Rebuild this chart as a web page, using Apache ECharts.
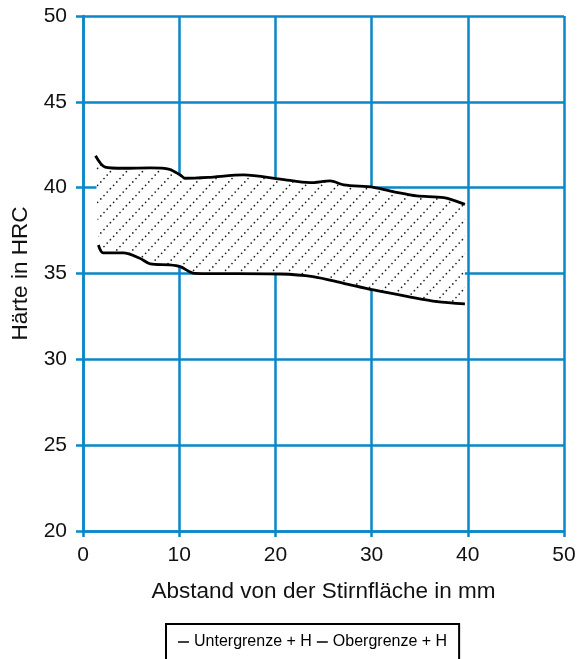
<!DOCTYPE html>
<html>
<head>
<meta charset="utf-8">
<script src="https://cdn.jsdelivr.net/npm/echarts@6/dist/echarts.min.js"></script>
<style>
  html, body { margin: 0; padding: 0; background: #fff; }
  #main { width: 586px; height: 659px; }
</style>
</head>
<body>
<div id="main"></div>
<script>
// Obergrenze + H
const upperX = [1.3, 2.3, 4.2, 7.0, 9.0, 10.1, 10.6, 13.0, 16.7, 20.5, 23.6, 25.7, 27.1, 30.2, 32.6, 34.7, 37.5, 39.7];
const upperY = [41.86, 41.2, 41.13, 41.15, 41.07, 40.74, 40.55, 40.6, 40.74, 40.5, 40.29, 40.39, 40.16, 40.02, 39.73, 39.52, 39.42, 39.03];
// Untergrenze + H
const lowerX = [1.6, 2.1, 4.2, 5.9, 7.0, 9.0, 10.1, 11.6, 20.5, 23.9, 27.1, 30.2, 33.8, 36.8, 39.7];
const lowerY = [36.66, 36.2, 36.2, 35.89, 35.56, 35.5, 35.4, 35.01, 34.97, 34.82, 34.43, 34.04, 33.65, 33.36, 33.23];

const seriesNames = ["Untergrenze + H", "Obergrenze + H"];
const xTicks = [0, 10, 20, 30, 40, 50];
const yTicks = [20, 25, 30, 35, 40, 45, 50];

const blue = "#0a87c9";
const font = "'Liberation Sans', Arial, Helvetica, sans-serif";

function zip(xs, ys) {
  return xs.map((x, i) => [x, ys[i]]);
}

// dotted diagonal hatching on white
function hatch() {
  const w = 16, h = 17, n = 5;
  const c = document.createElement("canvas");
  c.width = w;
  c.height = h;
  const ctx = c.getContext("2d");
  ctx.fillStyle = "#fff";
  ctx.fillRect(0, 0, w, h);
  ctx.fillStyle = "#1a1a1a";
  for (let i = 0; i < n; i++) {
    const x = (i + 0.5) * w / n;
    const y = h - (i + 0.5) * h / n;
    ctx.beginPath();
    ctx.arc(x, y, 0.85, 0, Math.PI * 2);
    ctx.fill();
  }
  return c;
}
const pattern = { image: hatch(), repeat: "repeat" };

const upper = zip(upperX, upperY);
const lower = zip(lowerX, lowerY);
const band = upper.concat(lower.slice().reverse());

const chart = echarts.init(document.getElementById("main"));
chart.setOption({
  animation: false,
  textStyle: { fontFamily: font },
  grid: { left: 83, right: 22, top: 16, bottom: 128, containLabel: false, outerBoundsMode: "none" },
  legend: {
    data: seriesNames,
    left: 166,
    top: 624,
    icon: "rect",
    itemWidth: 11,
    itemHeight: 1.5,
    itemGap: 5,
    padding: [10, 12, 30, 12],
    borderColor: "#000",
    borderWidth: 2,
    textStyle: { color: "#000", fontSize: 16, fontFamily: font }
  },
  xAxis: {
    type: "value",
    min: xTicks[0],
    max: xTicks[xTicks.length - 1],
    interval: 10,
    name: "Abstand von der Stirnfläche in mm",
    nameLocation: "middle",
    nameGap: 49,
    nameMoveOverlap: false,
    nameTextStyle: { color: "#111", fontSize: 22.5, fontFamily: font },
    axisLine: { show: true, lineStyle: { color: blue, width: 2.5 } },
    axisTick: { show: true, length: 6, lineStyle: { color: blue, width: 2.5 } },
    axisLabel: { color: "#111", fontSize: 21, margin: 14, fontFamily: font },
    splitLine: { show: true, lineStyle: { color: blue, width: 2.5 } }
  },
  yAxis: {
    type: "value",
    min: yTicks[0],
    max: yTicks[yTicks.length - 1],
    interval: 5,
    name: "Härte in HRC",
    nameLocation: "middle",
    nameGap: 51,
    nameMoveOverlap: false,
    nameTextStyle: { color: "#111", fontSize: 22.5, fontFamily: font },
    axisLine: { show: true, lineStyle: { color: blue, width: 2.5 } },
    axisTick: { show: true, length: 7, lineStyle: { color: blue, width: 2.5 } },
    axisLabel: { color: "#111", fontSize: 21, margin: 16, fontFamily: font },
    splitLine: { show: true, lineStyle: { color: blue, width: 2.5 } }
  },
  series: [
    {
      type: "custom",
      silent: true,
      data: [band[0]],
      renderItem: function (params, api) {
        const pts = band.map((p) => api.coord(p));
        return {
          type: "polygon",
          shape: { points: pts },
          style: { fill: pattern }
        };
      },
      z: 2
    },
    {
      name: seriesNames[0],
      type: "line",
      data: lower,
      smooth: 0.3,
      showSymbol: false,
      lineStyle: { color: "#000", width: 2.8 },
      itemStyle: { color: "#000" },
      z: 3
    },
    {
      name: seriesNames[1],
      type: "line",
      data: upper,
      smooth: 0.3,
      showSymbol: false,
      lineStyle: { color: "#000", width: 2.8 },
      itemStyle: { color: "#000" },
      z: 3
    }
  ]
});
</script>
</body>
</html>
